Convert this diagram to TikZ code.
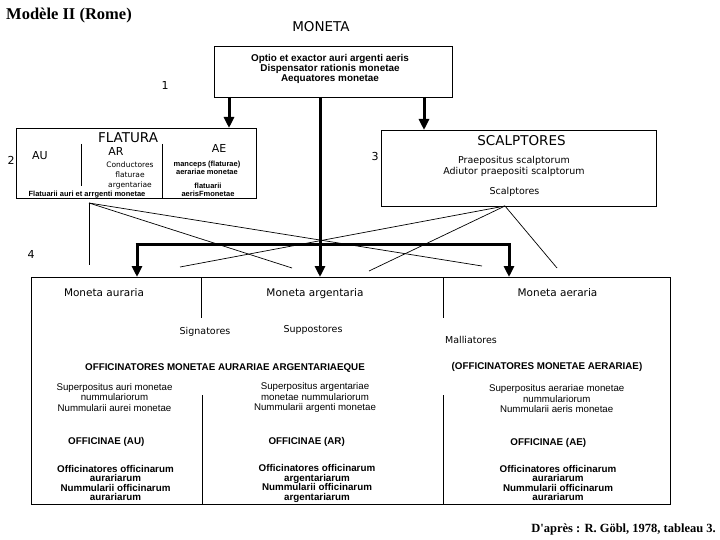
\documentclass[tikz,border=0pt]{standalone}
\usepackage{fontspec}
\usetikzlibrary{arrows.meta}
\newfontfamily\gen{DejaVu Sans}
\newfontfamily\hel{Liberation Sans}
\newfontfamily\tim{Liberation Serif}
\newcommand\fsz[2]{\fontsize{#1}{#2}\selectfont}
\newcommand\tstr{\leavevmode\vrule width0pt height.86em depth.14em\relax}
\begin{document}
\begin{tikzpicture}[x=1pt,y=-1pt,
  box/.style={draw,line width=0.9pt},
  sep/.style={line width=0.9pt},
  thin/.style={line width=0.7pt},
  big/.style={line width=3pt,-{Triangle[width=10pt,length=11pt]}},
  bar/.style={line width=3pt},
  txt/.style={inner sep=0pt,align=center,execute at begin node=\tstr,execute at end node=\tstr},
  gtitle/.style={txt,font=\gen\fsz{13.5}{15}},
  gmid/.style={txt,font=\gen\fsz{10.5}{12}},
  gsm/.style={txt,font=\gen\fsz{9.5}{11.6}},
  gtiny/.style={txt,font=\gen\fsz{7.5}{10}},
  btiny/.style={txt,font=\hel\bfseries\fsz{7.5}{8}},
  hreg/.style={txt,font=\hel\fsz{9.7}{10.5}},
  hbold/.style={txt,font=\hel\bfseries\fsz{9.8}{9.5}},
  topb/.style={txt,font=\hel\bfseries\fsz{9.9}{10}},
  num/.style={txt,font=\gen\fsz{11}{12}}
]
\useasboundingbox (0,0) rectangle (720,540);
\fill[white] (0,0) rectangle (720,540);

% titles
\node[txt,anchor=west,font=\tim\bfseries\fsz{16.5}{18}] (title) at (6,14) {Modèle II (Rome)};
\node[gtitle] (moneta) at (321,27) {MONETA};
\node[txt,anchor=east,font=\tim\bfseries\fsz{12.5}{14}] (source) at (716,528) {D'après : R. Göbl, 1978, tableau 3.};

% top box
\node[box,minimum width=238pt,minimum height=51pt,inner sep=0pt] (top) at (333,71.5) {};
\node[topb] (toptext) at (330,69) {Optio et exactor auri argenti aeris\\Dispensator rationis monetae\\Aequatores monetae};
\node[num] (n1) at (165,86) {1};

% FLATURA box
\node[box,minimum width=240pt,minimum height=70pt,inner sep=0pt] (flat) at (136,163) {};
\node[gtitle] (flattitle) at (128,138) {FLATURA};
\node[num] (n2) at (11,161) {2};
\node[txt,font=\gen\fsz{11}{12}] (au) at (40,156) {AU};
\node[txt,font=\gen\fsz{11}{12}] (ar) at (116,152) {AR};
\node[txt,font=\gen\fsz{11}{12}] (ae) at (219,149) {AE};
\node[gtiny] (cond) at (130,175.7) {Conductores\\flaturae\\argentariae};
\node[btiny] (manc) at (207,168) {manceps (flaturae)\\aerariae monetae};
\node[btiny] (flatu) at (208,190.3) {flatuarii\\aerisFmonetae};
\node[btiny] (flaur) at (87,194) {Flatuarii auri et arrgenti monetae};
\coordinate (fa1) at (81,144); \coordinate (fa2) at (81,186);
\coordinate (fb1) at (162,144); \coordinate (fb2) at (162,198);
\draw[sep] (fa1) -- (fa2);
\draw[sep] (fb1) -- (fb2);

% SCALPTORES box
\node[box,minimum width=275pt,minimum height=76pt,inner sep=0pt] (scal) at (518.5,168) {};
\node[gtitle] (scaltitle) at (521.5,140.5) {SCALPTORES};
\node[gsm] (praep) at (514,166.5) {Praepositus scalptorum\\Adiutor praepositi scalptorum};
\node[gsm] (scalp) at (514.5,191) {Scalptores};
\node[num] (n3) at (375,157) {3};

% bottom box
\node[box,minimum width=639pt,minimum height=227pt,inner sep=0pt] (bot) at (350.5,390.5) {};
\node[num] (n4) at (31,255) {4};
\coordinate (s1a) at (201,277); \coordinate (s1b) at (201,318);
\coordinate (s2a) at (443,277); \coordinate (s2b) at (443,318);
\coordinate (s3a) at (202,395); \coordinate (s3b) at (202,504);
\coordinate (s4a) at (443,395); \coordinate (s4b) at (443,504);
\draw[sep] (s1a) -- (s1b);
\draw[sep] (s2a) -- (s2b);
\draw[sep] (s3a) -- (s3b);
\draw[sep] (s4a) -- (s4b);

\node[gmid] (mau) at (104,293) {Moneta auraria};
\node[gmid] (mar) at (315,293) {Moneta argentaria};
\node[gmid] (mae) at (557.5,293) {Moneta aeraria};
\node[gsm] (sign) at (205,331) {Signatores};
\node[gsm] (supp) at (313,329) {Suppostores};
\node[gsm] (mall) at (471,340) {Malliatores};
\node[hbold] (offaa) at (225,367.5) {OFFICINATORES MONETAE AURARIAE ARGENTARIAEQUE};
\node[hbold] (offae) at (547,366.7) {(OFFICINATORES MONETAE AERARIAE)};

\node[hreg] (supau) at (114.5,397.7) {Superpositus auri monetae\\nummulariorum\\Nummularii aurei monetae};
\node[hreg] (supar) at (315,397.7) {Superpositus argentariae\\monetae nummulariorum\\Nummularii argenti monetae};
\node[hreg] (supae) at (556.7,399.5) {Superpositus aerariae monetae\\nummulariorum\\Nummularii aeris monetae};

\node[hbold] (ofau) at (106.3,441.3) {OFFICINAE (AU)};
\node[hbold] (ofar) at (306.7,441) {OFFICINAE (AR)};
\node[hbold] (ofae) at (548.3,442.7) {OFFICINAE (AE)};

\node[hbold] (ocau) at (115.5,483.4) {Officinatores officinarum\\aurariarum\\Nummularii officinarum\\aurariarum};
\node[hbold] (ocar) at (317,483.4) {Officinatores officinarum\\argentariarum\\Nummularii officinarum\\argentariarum};
\node[hbold] (ocae) at (558,483.4) {Officinatores officinarum\\aurariarum\\Nummularii officinarum\\aurariarum};

% thick arrows
\coordinate (t1) at (229,97); \coordinate (t2) at (320,97); \coordinate (t3) at (424,97);
\coordinate (f1) at (229,128); \coordinate (b2) at (320,277); \coordinate (c1) at (424,130);
\draw[big] (t1) -- (f1);
\draw[big] (t3) -- (c1);
\draw[big] (t2) -- (b2);
\coordinate (barL) at (137,244); \coordinate (barR) at (509,244);
\coordinate (b1) at (137,277); \coordinate (b3) at (509,277);
\draw[bar,line cap=butt] ([xshift=-1.5pt]barL) -- ([xshift=1.5pt]barR);
\draw[big] (barL) -- (b1);
\draw[big] (barR) -- (b3);

% thin lines
\coordinate (fap) at (89,203); \coordinate (sap) at (505,206);
\coordinate (fe1) at (89,265); \coordinate (fe2) at (292,268); \coordinate (fe3) at (482,266);
\coordinate (se1) at (180,267); \coordinate (se2) at (369,271); \coordinate (se3) at (557,268);
\draw[thin] (fap) -- (fe1);
\draw[thin] (fap) -- (fe2);
\draw[thin] (fap) -- (fe3);
\draw[thin] (sap) -- (se1);
\draw[thin] (sap) -- (se2);
\draw[thin] (sap) -- (se3);
\end{tikzpicture}
\end{document}
